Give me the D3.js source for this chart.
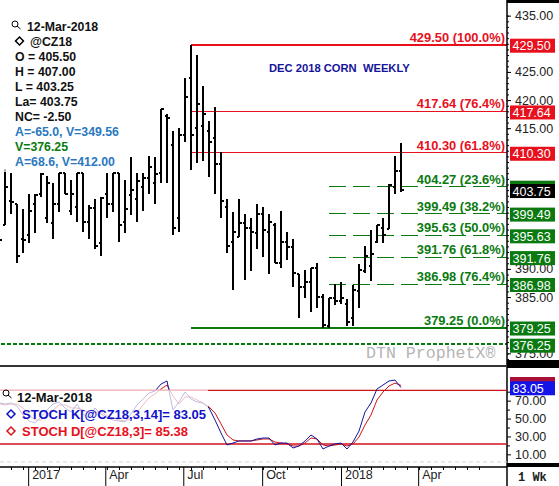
<!DOCTYPE html>
<html>
<head>
<meta charset="utf-8">
<style>
  html, body { margin: 0; padding: 0; background: #fff; }
  svg { display: block; }
  text { font-family: "Liberation Sans", Arial, sans-serif; }
</style>
</head>
<body>
<div id="chart"></div>
<script src="https://cdnjs.cloudflare.com/ajax/libs/d3/7.8.5/d3.min.js"></script>
<script>
var barOpen = [398, 397.5, 401.75, 401.25, 395, 395.75, 401.25, 403, 398.75, 397.75, 401.25, 406.75, 400, 400.75, 406.75, 398, 400.5, 394.25, 403, 401.25, 406.75, 398, 402.75, 402, 404.25, 405.75, 405, 406.75, 416.75, 411.75, 398.75, 413.5, 423.5, 414.75, 415, 414.25, 413, 408.25, 400.75, 394.5, 395.25, 397.75, 397, 396, 399.5, 396.25, 397.5, 390.75, 394.5, 393.5, 388.75, 386.5, 387.25, 389.75, 384.75, 379.5, 384.5, 384, 383.5, 381, 385.75, 389.25, 390.25, 394.5, 397, 396.75, 404.25, 407]
var barHigh = [404, 407.5, 406.75, 401.25, 400.25, 403, 403, 406.75, 406.25, 405, 406.75, 406.75, 405.5, 406.75, 406.75, 401, 402, 402.5, 406.75, 406.75, 406.75, 405.5, 409.5, 406.75, 406.75, 409.75, 409.5, 418, 417.25, 414.25, 414.75, 423.5, 429.5, 427.75, 422.25, 416, 418.5, 410.5, 402, 399.75, 402, 399.5, 398.75, 401.25, 400.75, 399.5, 397.75, 400, 396.25, 395, 388.75, 389.5, 389.75, 390.75, 385.25, 384.5, 387, 387.25, 384.25, 386.75, 390.5, 393.75, 396.5, 397.5, 398.75, 404.75, 409.75, 412]
var barLow = [393.5, 397.5, 399.5, 390.75, 392.5, 394.25, 396, 402.5, 397.75, 395, 399.75, 403, 399.25, 398, 396.25, 395, 393.25, 392, 398.75, 399.75, 394.5, 396, 399.25, 398, 400, 403, 401.25, 405, 405, 395.75, 396.25, 412.25, 407.25, 408.5, 408.75, 406, 403, 398.75, 392.5, 386, 395.25, 387.75, 389.25, 393.25, 391.75, 388.75, 390.75, 389.75, 391.25, 386.5, 381, 384.5, 382, 382.75, 379.25, 379.25, 383.25, 383.5, 379.5, 379.5, 382.75, 389, 387.5, 394.25, 394.25, 396.75, 403, 403.25]
var barClose = [394.75, 404.25, 401.5, 392, 394.75, 400, 402.75, 406.5, 405, 401.25, 406.75, 403, 403, 406.75, 398, 400.5, 393.75, 402.25, 401.25, 406.75, 397.5, 400.25, 403.75, 405.25, 405.75, 407.75, 406.5, 418, 416.5, 397, 413.5, 420.25, 413.5, 419, 417.25, 412.25, 408.25, 401.75, 393.75, 396.25, 397.75, 397, 396.25, 399.5, 396.5, 398, 390.75, 394.5, 393.5, 389, 386.5, 387.25, 389.75, 384.75, 379.75, 384.5, 384, 384.5, 380.25, 386, 389.5, 392, 392.25, 397.5, 395.75, 404.5, 407, 403.75]

var stochK = [66, 64.7, 65.8, 62.5, 52.4, 45.7, 43.5, 50.2, 58, 64.7, 66.9, 60.2, 55.8, 64.7, 53.5, 49.1, 60.2, 53.5, 49.1, 46.8, 45.7, 44.6, 53.5, 63.6, 70.3, 77, 79.2, 87, 90.4, 58, 66.9, 78.1, 70.3, 66.9, 65.8, 60.2, 46.8, 32.3, 18.9, 21.1, 23.4, 23.4, 23.4, 25.6, 26.7, 26.7, 18.9, 21.1, 21.1, 15.5, 17.8, 23.4, 30.1, 25.6, 14.4, 17.8, 20, 21.1, 14.4, 22.2, 34.5, 55.8, 65.8, 81.5, 85.9, 90.4, 91.5, 83.05]
var stochD = [65, 63.6, 64.7, 64.7, 60.2, 52.4, 46.8, 46.8, 52.4, 58, 63.6, 63.6, 60.2, 60.2, 58, 54.7, 55.8, 55.8, 51.3, 49.1, 46.8, 45.7, 48, 54.7, 63.6, 71.4, 75.9, 81.5, 85.9, 73.6, 64.7, 72.5, 72.5, 69.2, 65.8, 61.4, 54.7, 42.4, 30.1, 24.5, 23.4, 23.4, 23.4, 24.5, 25.6, 25.6, 22.2, 21.1, 20, 17.8, 17.8, 21.1, 26.7, 25.6, 18.9, 17.8, 18.9, 20, 17.8, 20, 27.8, 41.2, 52.4, 69.2, 78.1, 84.8, 88.1, 85.38]

var fibPrices = [429.5, 417.64, 410.3, 404.27, 399.49, 395.63, 391.76, 386.98, 379.25]
var fibPercents = ['100.0', '76.4', '61.8', '23.6', '38.2', '50.0', '61.8', '76.4', '0.0']
var supportPrice = 376.25
var lastPrice = 403.75

var infoLines = ['O = 405.50', 'H = 407.00', 'L = 403.25', 'La= 403.75', 'NC= -2.50']
var infoLinesColored = ['A=-65.0, V=349.56', 'V=376.25', 'A=68.6, V=412.00']
var priceTicks = [435, 425, 420, 415, 390, 385, 375]
var stochTicks = [70, 50, 30, 10]
var stochMinorTicks = [80, 60, 40, 20, 0]
var stochBands = [80, 20]

var width = 559
var height = 486
var axisX = 507
var red = '#e8101c'
var green = '#0a7a10'
var lightBlue = '#2a78c0'
var bodyBlue = '#1212c8'

var svg = d3
  .select('#chart')
  .append('svg')
  .attr('width', width)
  .attr('height', height)

var weeks = d3.timeMonday.range(new Date(2016, 10, 28), new Date(2018, 2, 13))
var highDate = new Date(2017, 6, 10)
var lowDate = new Date(2017, 11, 18)

var xScale = d3
  .scaleTime()
  .domain([new Date(2016, 11, 5), new Date(2018, 2, 12)])
  .range([5, 401])

var yPrice = d3
  .scaleLinear()
  .domain([429.5, 376.25])
  .range([44.7, 344.4])

var yStoch = d3
  .scaleLinear()
  .domain([80, 20])
  .range([390.3, 444])

var plot = svg.append('g')

// fib levels
var isSolid = d => d === 429.5 || d === 417.64 || d === 410.3 || d === 379.25
var levelColor = d => (d >= 410 ? red : green)

plot
  .selectAll('.level')
  .data(fibPrices)
  .enter()
  .append('line')
  .attr('class', 'level')
  .attr('x1', d => xScale(isSolid(d) ? highDate : lowDate))
  .attr('x2', axisX)
  .attr('y1', d => yPrice(d))
  .attr('y2', d => yPrice(d))
  .attr('stroke', levelColor)
  .attr('stroke-width', d => (d === 429.5 || d === 379.25 ? 2 : 1))
  .attr('stroke-dasharray', d => (isSolid(d) ? null : '17,7'))
  .attr('shape-rendering', 'crispEdges')

plot
  .append('line')
  .attr('x1', 1)
  .attr('x2', axisX)
  .attr('y1', yPrice(supportPrice))
  .attr('y2', yPrice(supportPrice))
  .attr('stroke', green)
  .attr('stroke-width', 2)
  .attr('stroke-dasharray', '4,2')
  .attr('shape-rendering', 'crispEdges')

// weekly bars
var bars = plot
  .selectAll('.bar')
  .data(weeks)
  .enter()
  .append('g')
  .attr('class', 'bar')
  .attr('stroke', 'black')
  .attr('stroke-width', 2)
  .attr('shape-rendering', 'crispEdges')

bars
  .append('line')
  .attr('x1', d => xScale(d))
  .attr('x2', d => xScale(d))
  .attr('y1', (d, i) => yPrice(barHigh[i]))
  .attr('y2', (d, i) => yPrice(barLow[i]))

bars
  .append('line')
  .attr('x1', d => xScale(d) - 2.5)
  .attr('x2', d => xScale(d))
  .attr('y1', (d, i) => yPrice(barOpen[i]))
  .attr('y2', (d, i) => yPrice(barOpen[i]))

bars
  .append('line')
  .attr('x1', d => xScale(d))
  .attr('x2', d => xScale(d) + 2.5)
  .attr('y1', (d, i) => yPrice(barClose[i]))
  .attr('y2', (d, i) => yPrice(barClose[i]))

// fib labels
plot
  .selectAll('.level-label')
  .data(fibPrices)
  .enter()
  .append('text')
  .attr('class', 'level-label')
  .attr('x', 505)
  .attr('y', d => yPrice(d) - 3)
  .attr('text-anchor', 'end')
  .attr('font-size', 12.9)
  .attr('font-weight', 700)
  .attr('fill', levelColor)
  .text((d, i) => d3.format('.2f')(d) + ' (' + fibPercents[i] + '%)')

svg
  .append('text')
  .attr('x', 269)
  .attr('y', 72)
  .attr('font-size', 11.2)
  .attr('font-weight', 700)
  .attr('fill', '#14149a')
  .attr('xml:space', 'preserve')
  .style('white-space', 'pre')
  .text('DEC 2018 CORN  WEEKLY')

svg
  .append('text')
  .attr('x', 366)
  .attr('y', 358)
  .attr('font-size', 16.6)
  .attr('fill', '#b4b4b4')
  .style('font-family', '"Liberation Mono", monospace')
  .text('DTN ProphetX®')

// header block, chart shows through it faintly
svg
  .append('rect')
  .attr('x', 0)
  .attr('y', 22)
  .attr('width', 120)
  .attr('height', 150)
  .attr('fill', 'white')
  .attr('opacity', 0.7)

function magnifier(x, y) {
  var g = svg.append('g').attr('fill', 'none').attr('stroke', 'black')
  g.append('circle')
    .attr('cx', x)
    .attr('cy', y)
    .attr('r', 3)
  g.append('line')
    .attr('x1', x + 2)
    .attr('y1', y + 2)
    .attr('x2', x + 5.5)
    .attr('y2', y + 5)
}

function diamond(x, y, color) {
  svg
    .append('path')
    .attr('d', d3.symbol().type(d3.symbolSquare).size(32)())
    .attr('transform', 'translate(' + x + ',' + y + ') rotate(45)')
    .attr('fill', 'none')
    .attr('stroke', color)
    .attr('stroke-width', 1.5)
}

function label(x, y, size, color, str) {
  svg
    .append('text')
    .attr('x', x)
    .attr('y', y)
    .attr('font-size', size)
    .attr('font-weight', 700)
    .attr('fill', color)
    .text(str)
}

magnifier(15, 24)
label(27, 31, 12.3, '#111', '12-Mar-2018')
diamond(19.5, 41, 'black')
label(30, 46, 12.3, '#111', '@CZ18')

infoLines.forEach((d, i) => label(15, 61 + i * 15, 12.3, '#111', d))
label(15, 136, 12.3, lightBlue, infoLinesColored[0])
label(15, 151, 12.3, green, infoLinesColored[1])
label(15, 166, 12.3, lightBlue, infoLinesColored[2])

// right axis
var priceAxis = svg
  .append('g')
  .attr('transform', 'translate(' + axisX + ',1.9)')
  .call(
    d3
      .axisRight(yPrice)
      .tickValues(priceTicks)
      .tickSize(4)
      .tickPadding(4)
      .tickFormat(d3.format('.2f'))
  )

var priceMinor = svg
  .append('g')
  .attr('transform', 'translate(' + axisX + ',1.9)')
  .call(
    d3
      .axisRight(yPrice)
      .tickValues(d3.range(374, 436))
      .tickSize(2)
      .tickFormat('')
  )

priceMinor.select('.domain').remove()
priceAxis.select('.domain').remove()
priceAxis.selectAll('text').attr('font-size', 12.5).attr('fill', '#222').style('font-family', '"Liberation Sans"')

svg
  .append('line')
  .attr('x1', axisX)
  .attr('x2', axisX)
  .attr('y1', 0)
  .attr('y2', height)
  .attr('stroke', 'black')
  .attr('stroke-width', 1.5)

// price tags
function priceTag(value, center, color) {
  var g = svg.append('g')
  g.append('rect')
    .attr('x', 510)
    .attr('y', center - 7)
    .attr('width', 45)
    .attr('height', 14)
    .attr('fill', color)
  g.append('text')
    .attr('x', 512.5)
    .attr('y', center + 4.5)
    .attr('font-size', 12.5)
    .attr('fill', 'white')
    .text(d3.format('.2f')(value))
}

fibPrices.filter(d => d !== 404.27).forEach(d => priceTag(d, yPrice(d) + 1, levelColor(d)))
priceTag(supportPrice, yPrice(supportPrice) + 1.3, green)

// 404.27 tag sits under the last price tag, only its top edge shows
svg
  .append('rect')
  .attr('x', 510)
  .attr('y', yPrice(404.27) - 6)
  .attr('width', 45)
  .attr('height', 8)
  .attr('fill', green)
priceTag(lastPrice, yPrice(lastPrice) + 1.4, 'black')

// stochastic panel
var panel = svg.append('g')

panel
  .append('line')
  .attr('x1', 0)
  .attr('x2', axisX)
  .attr('y1', yStoch(0))
  .attr('y2', yStoch(0))
  .attr('stroke', '#d4d4d4')
  .attr('stroke-dasharray', '4,3')

panel
  .selectAll('.band')
  .data(stochBands)
  .enter()
  .append('line')
  .attr('class', 'band')
  .attr('x1', 0)
  .attr('x2', axisX)
  .attr('y1', d => yStoch(d))
  .attr('y2', d => yStoch(d))
  .attr('stroke', '#d0121c')
  .attr('stroke-width', 1.3)

var stochLine = d3
  .line()
  .x((d, i) => xScale(weeks[i]))
  .y(d => yStoch(d))

panel
  .append('path')
  .datum(stochD)
  .attr('d', stochLine)
  .attr('fill', 'none')
  .attr('stroke', '#c8141c')
  .attr('stroke-width', 1)

panel
  .append('path')
  .datum(stochK)
  .attr('d', stochLine)
  .attr('fill', 'none')
  .attr('stroke', '#14149c')
  .attr('stroke-width', 1)

svg
  .append('rect')
  .attr('x', 0)
  .attr('y', 389.5)
  .attr('width', 208)
  .attr('height', 49)
  .attr('fill', 'white')
  .attr('opacity', 0.72)

magnifier(6, 393)
label(17, 401.5, 13, '#111', '12-Mar-2018')
diamond(11, 414, bodyBlue)
label(22, 419, 13, bodyBlue, 'STOCH K[@CZ18,3,14]= 83.05')
diamond(11, 431, '#d8141c')
label(22, 436, 13, '#e8101c', 'STOCH D[@CZ18,3]= 85.38')

var stochAxis = svg
  .append('g')
  .attr('transform', 'translate(' + axisX + ',1.4)')
  .call(
    d3
      .axisRight(yStoch)
      .tickValues(stochTicks)
      .tickSize(4)
      .tickPadding(4)
      .tickFormat(d3.format('.2f'))
  )

stochAxis.select('.domain').remove()
stochAxis.selectAll('text').attr('font-size', 12.5).attr('fill', '#222').style('font-family', '"Liberation Sans"')

var stochMinor = svg
  .append('g')
  .attr('transform', 'translate(' + axisX + ',1.4)')
  .call(
    d3
      .axisRight(yStoch)
      .tickValues(stochMinorTicks)
      .tickSize(3)
      .tickFormat('')
  )

stochMinor.select('.domain').remove()

// D tag is only a strip above the K tag
var lastK = stochK[stochK.length - 1]
var lastD = stochD[stochD.length - 1]
svg
  .append('rect')
  .attr('x', 510)
  .attr('y', yStoch(lastD) - 8.5)
  .attr('width', 45)
  .attr('height', 8)
  .attr('fill', '#a81038')
priceTag(lastK, yStoch(lastK) + 0.7, '#1414e6')

// separators and black bands
svg
  .append('line')
  .attr('x1', 0)
  .attr('x2', axisX)
  .attr('y1', 366)
  .attr('y2', 366)
  .attr('stroke', '#333')
  .attr('stroke-width', 2)

var bandData = [
  [0, 3],
  [360, 368],
  [463, 467]
]

svg
  .selectAll('.black-band')
  .data(bandData)
  .enter()
  .append('rect')
  .attr('class', 'black-band')
  .attr('x', axisX)
  .attr('y', d => d[0])
  .attr('width', width - axisX)
  .attr('height', d => d[1] - d[0])
  .attr('fill', 'black')

// time axis
var timeMinor = svg
  .append('g')
  .attr('transform', 'translate(0,467)')
  .call(
    d3
      .axisBottom(xScale)
      .tickValues(d3.timeMonday.every(2).range(new Date(2016, 11, 1), new Date(2018, 5, 25)))
      .tickSize(3)
      .tickFormat('')
  )

timeMinor.select('.domain').remove()

var quarterFormat = d => (d.getMonth() === 0 ? d3.timeFormat('%Y')(d) : d3.timeFormat('%b')(d))

var timeAxis = svg
  .append('g')
  .attr('transform', 'translate(0,467)')
  .call(
    d3
      .axisBottom(xScale)
      .tickValues(d3.timeMonth.every(3).range(new Date(2017, 0, 1), new Date(2018, 5, 1)))
      .tickSize(19)
      .tickFormat(quarterFormat)
  )

timeAxis.select('.domain').remove()
timeAxis
  .selectAll('text')
  .attr('text-anchor', 'start')
  .attr('x', 3.5)
  .attr('y', 3)
  .attr('font-size', 12.5)
  .attr('fill', '#222')
  .style('font-family', '"Liberation Sans"')

svg
  .append('line')
  .attr('x1', 0)
  .attr('x2', axisX)
  .attr('y1', 467)
  .attr('y2', 467)
  .attr('stroke', 'black')
  .attr('stroke-width', 1.5)

svg
  .append('text')
  .attr('x', 518)
  .attr('y', 481)
  .attr('font-size', 12)
  .attr('font-weight', 700)
  .attr('fill', '#222')
  .style('font-family', '"Liberation Mono", monospace')
  .text('1 Wk')
</script>
</body>
</html>
